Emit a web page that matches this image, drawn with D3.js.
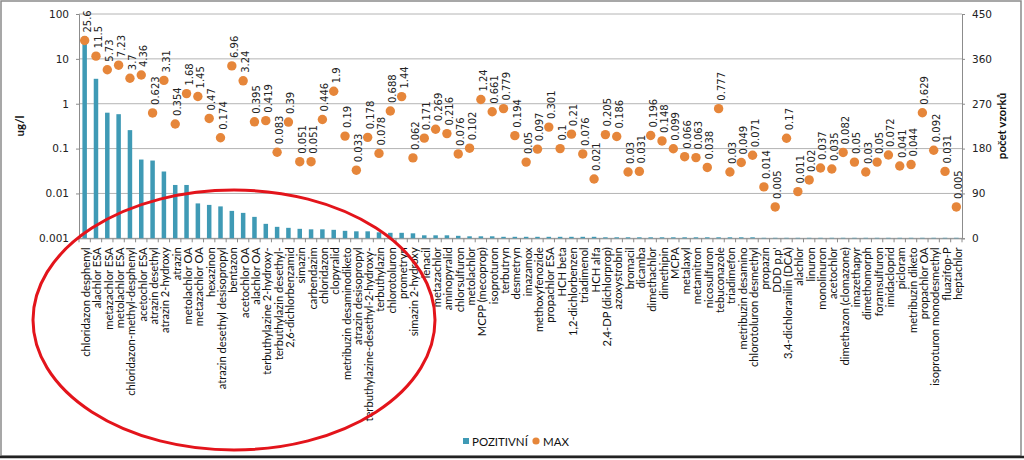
<!DOCTYPE html>
<html><head><meta charset="utf-8">
<script src="https://cdn.jsdelivr.net/npm/d3@7"></script>
<style>body{margin:0;background:#fff}svg{display:block}</style>
</head><body>
<svg id="c" width="1024" height="460"></svg>
<script>
const categories = ["chloridazon desphenyl","alachlor ESA","metazachlor ESA","metolachlor ESA","chloridazon-methyl-desphenyl","acetochlor ESA","atrazin desethyl","atrazin 2-hydroxy","atrazin","metolachlor OA","metazachlor OA","hexazinon","atrazin desethyl desisopropyl","bentazon","acetochlor OA","alachlor OA","terbuthylazine 2-hydroxy-","terbuthylazin desethyl-","2,6-dichlorbenzamid","simazin","carbendazim","chloridazon","clopyralid","metribuzin desaminodiketo","atrazin desisopropyl","terbuthylazine-desethyl-2-hydroxy-","terbuthylazin","chlorotoluron","prometryn","simazin 2-hydroxy","lenacil","metazachlor","aminopyralid","chlorsulfuron","metolachlor","MCPP (mecoprop)","isoproturon","terbutryn","desmetryn","imazamox","methoxyfenozide","propachlor ESA","HCH beta","1,2-dichlorbenzen","triadimenol","HCH alfa","2,4-DP (dichlorprop)","azoxystrobin","bromacil","dicamba","dimethachlor","dimethipin","MCPA","metalaxyl","metamitron","nicosulfuron","tebuconazole","triadimefon","metribuzin desamino","chlorotoluron desmethyl","propazin","DDD p,p'","3,4-dichloranilin (DCA)","alachlor","linuron","monolinuron","acetochlor","dimethazon (clomazone)","imazethapyr","dimethomorph","foramsulfuron","imidacloprid","picloram","metribuzin diketo","propachlor OA","isoproturon monodesmethyl","fluazifop-P","heptachlor"];
const maxValues = [25.6,11.5,5.73,7.23,3.7,4.36,0.623,3.31,0.354,1.68,1.45,0.47,0.174,6.96,3.24,0.395,0.419,0.083,0.39,0.051,0.051,0.446,1.9,0.19,0.033,0.178,0.078,0.688,1.44,0.062,0.171,0.269,0.216,0.076,0.102,1.24,0.661,0.779,0.194,0.05,0.097,0.301,0.1,0.21,0.076,0.021,0.205,0.186,0.03,0.031,0.196,0.148,0.099,0.066,0.063,0.038,0.777,0.03,0.049,0.071,0.014,0.005,0.17,0.011,0.02,0.037,0.035,0.082,0.05,0.03,0.05,0.072,0.041,0.044,0.629,0.092,0.031,0.005];
const positives = [405,320,252,249,217,158,156,134,107,107,70,67,64,55,51,43,29,23,21,19,18,18,17,15,14,14,12,11,11,10,6,6,6,5,4,4,4,3,3,3,3,3,3,3,3,3,2,2,2,2,2,2,2,2,2,2,2,2,2,2,1,1,1,1,1,1,1,1,1,1,1,1,1,1,1,1,1,1];
const leftTicks = [0.001,0.01,0.1,1,10,100];
const leftTickLabels = ["0.001","0.01","0.1","1","10","100"];
const rightTicks = [0,90,180,270,360,450];
const seriesNames = ["POZITIVNÍ","MAX"];

const svg = d3.select("#c");
const L = 79, R = 962, T = 14, B = 238.3;
const x = d3.scaleBand().domain(categories).range([L, R]).padding(0);
const yL = d3.scaleLog().domain([0.001, 100]).range([B, T]);
const yR = d3.scaleLinear().domain([0, 450]).range([B, T]);
const barColor = "#3f9ab5", dotColor = "#e6863a";
const numFont = "DejaVu Sans", txtFont = "Lato";

// frame
svg.append("rect").attr("x",1).attr("y",1).attr("width",1020).attr("height",455)
  .attr("fill","none").attr("stroke","#8a8a8a").attr("stroke-width",1.5);
svg.append("line").attr("x1",0).attr("x2",1024).attr("y1",457).attr("y2",457).attr("stroke","#222").attr("stroke-width",2.5);

// gridlines
svg.append("g").selectAll("line").data(leftTicks).join("line")
  .attr("x1",L).attr("x2",R).attr("y1",d=>yL(d)).attr("y2",d=>yL(d))
  .attr("stroke","#b4b4b4").attr("stroke-width",1);

// left axis
const gl = svg.append("g").attr("transform",`translate(${L},0)`)
  .call(d3.axisLeft(yL).tickValues(leftTicks).tickFormat((d,i)=>leftTickLabels[i]).tickSize(3).tickPadding(7));
gl.select(".domain").attr("stroke","#8c8c8c");
gl.selectAll(".tick line").attr("stroke","#8c8c8c");
gl.selectAll("text").attr("font-family",numFont).attr("font-size",10.5).attr("fill","#222");

// right axis
const gr = svg.append("g").attr("transform",`translate(${R},0)`)
  .call(d3.axisRight(yR).tickValues(rightTicks).tickSize(3).tickPadding(7));
gr.select(".domain").attr("stroke","#8c8c8c");
gr.selectAll(".tick line").attr("stroke","#8c8c8c");
gr.selectAll("text").attr("font-family",numFont).attr("font-size",10.5).attr("fill","#222");

// bottom axis
const gb = svg.append("g").attr("transform",`translate(0,${B})`)
  .call(d3.axisBottom(x).tickSize(0).tickFormat(""));
gb.select(".domain").attr("stroke","#8c8c8c");
svg.append("g").selectAll("line").data(categories.concat(["__end"])).join("line")
  .attr("x1",(d,i)=>L + i*x.bandwidth()).attr("x2",(d,i)=>L + i*x.bandwidth())
  .attr("y1",B).attr("y2",B+4).attr("stroke","#8c8c8c");

// category labels
svg.append("g").selectAll("text").data(categories).join("text")
  .attr("transform",d=>`translate(${x(d)+x.bandwidth()/2+5.5},${B+9}) rotate(-90)`)
  .attr("text-anchor","end").attr("font-family",txtFont).attr("font-size",11.2).attr("fill","#111")
  .text(d=>d);

// bars (positive counts, right axis)
const bw = 4.5;
svg.append("g").selectAll("rect").data(categories).join("rect")
  .attr("x",d=>x(d)+x.bandwidth()/2-bw/2).attr("width",bw)
  .attr("y",(d,i)=>yR(positives[i])).attr("height",(d,i)=>B-yR(positives[i]))
  .attr("fill",barColor);

// dots (MAX, left log axis)
svg.append("g").selectAll("circle").data(categories).join("circle")
  .attr("cx",d=>x(d)+x.bandwidth()/2).attr("cy",(d,i)=>yL(maxValues[i])).attr("r",4.7)
  .attr("fill",dotColor);

// data labels
svg.append("g").selectAll("text").data(categories).join("text")
  .attr("transform",(d,i)=>`translate(${x(d)+x.bandwidth()/2+6},${yL(maxValues[i])-8}) rotate(-90)`)
  .attr("text-anchor","start").attr("font-family",numFont).attr("font-size",10).attr("fill","#222")
  .text((d,i)=>String(maxValues[i]));

// axis titles
svg.append("text").attr("transform","translate(24,126) rotate(-90)").attr("text-anchor","middle")
  .attr("font-family",txtFont).attr("font-weight","bold").attr("font-size",11.5).attr("fill","#111").text("ug/l");
svg.append("text").attr("transform","translate(1006,126) rotate(-90)").attr("text-anchor","middle")
  .attr("font-family",txtFont).attr("font-weight","bold").attr("font-size",11.5).attr("fill","#111").text("počet vzorků");

// legend
const lg = svg.append("g");
lg.append("rect").attr("x",463).attr("y",438).attr("width",6).attr("height",6).attr("fill",barColor);
lg.append("text").attr("x",472).attr("y",445.5).attr("font-family",txtFont).attr("font-size",11.5).attr("fill","#111").text(seriesNames[0]);
lg.append("circle").attr("cx",536).attr("cy",441).attr("r",3.6).attr("fill",dotColor);
lg.append("text").attr("x",543).attr("y",445.5).attr("font-family",txtFont).attr("font-size",11.5).attr("fill","#111").text(seriesNames[1]);

// red annotation ellipse
svg.append("ellipse").attr("cx",234).attr("cy",320).attr("rx",201).attr("ry",130)
  .attr("fill","none").attr("stroke","#e3141b").attr("stroke-width",3);
</script>
</body></html>
